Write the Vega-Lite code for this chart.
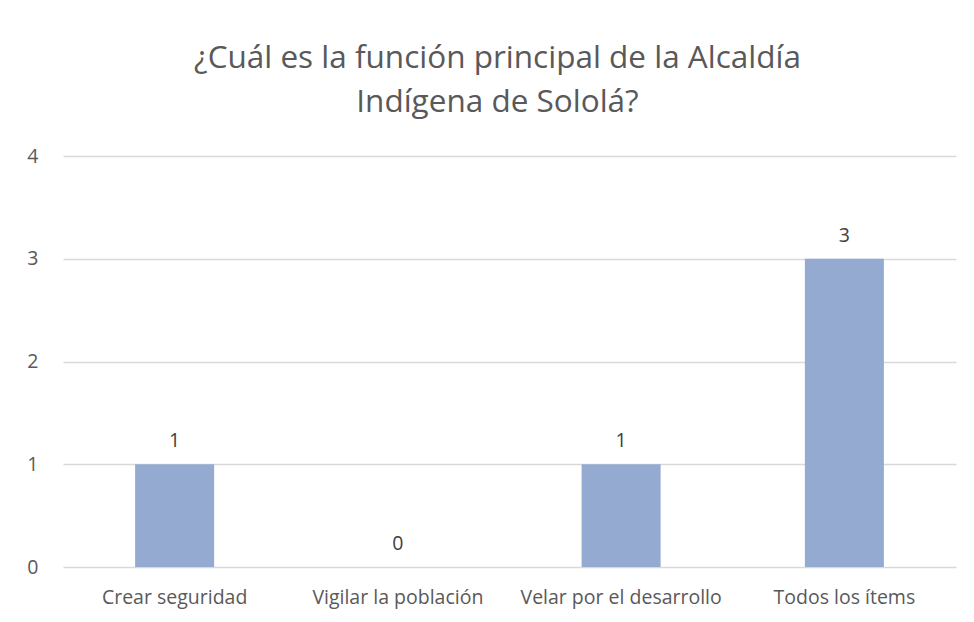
{
  "$schema": "https://vega.github.io/schema/vega-lite/v6.json",
  "autosize": "none",
  "width": 893,
  "height": 411,
  "padding": {"left": 63, "top": 156, "right": 18, "bottom": 55},
  "background": "white",
  "config": {
    "font": "Open Sans",
    "view": {"stroke": null}
  },
  "title": {
    "text": ["¿Cuál es la función principal de la Alcaldía", "Indígena de Sololá?"],
    "anchor": "middle",
    "frame": "group",
    "dx": -12,
    "fontSize": 31.5,
    "fontWeight": "normal",
    "color": "#595959",
    "lineHeight": 44,
    "offset": 28
  },
  "data": {
    "values": [
      {"categoria": "Crear seguridad", "valor": 1},
      {"categoria": "Vigilar la población", "valor": 0},
      {"categoria": "Velar por el desarrollo", "valor": 1},
      {"categoria": "Todos los ítems", "valor": 3}
    ]
  },
  "encoding": {
    "x": {
      "field": "categoria",
      "type": "nominal",
      "sort": null,
      "scale": {"paddingInner": 0.646, "paddingOuter": 0.323},
      "axis": {
        "title": null,
        "labelAngle": 0,
        "labelFontSize": 19.5,
        "labelColor": "#595959",
        "labelPadding": 21,
        "labelLimit": 0,
        "ticks": false,
        "domain": false
      }
    },
    "y": {
      "field": "valor",
      "type": "quantitative",
      "scale": {"domain": [0, 4]},
      "axis": {
        "title": null,
        "values": [0, 1, 2, 3, 4],
        "format": "d",
        "labelFontSize": 19.5,
        "labelColor": "#595959",
        "labelPadding": 25,
        "ticks": false,
        "domain": false,
        "gridColor": "#d9d9d9",
        "gridWidth": 1.3
      }
    }
  },
  "layer": [
    {"mark": {"type": "bar", "color": "#95AAD1"}},
    {
      "mark": {"type": "text", "baseline": "alphabetic", "dy": -17, "fontSize": 19.5, "color": "#404040"},
      "encoding": {"text": {"field": "valor", "type": "quantitative"}}
    }
  ]
}
